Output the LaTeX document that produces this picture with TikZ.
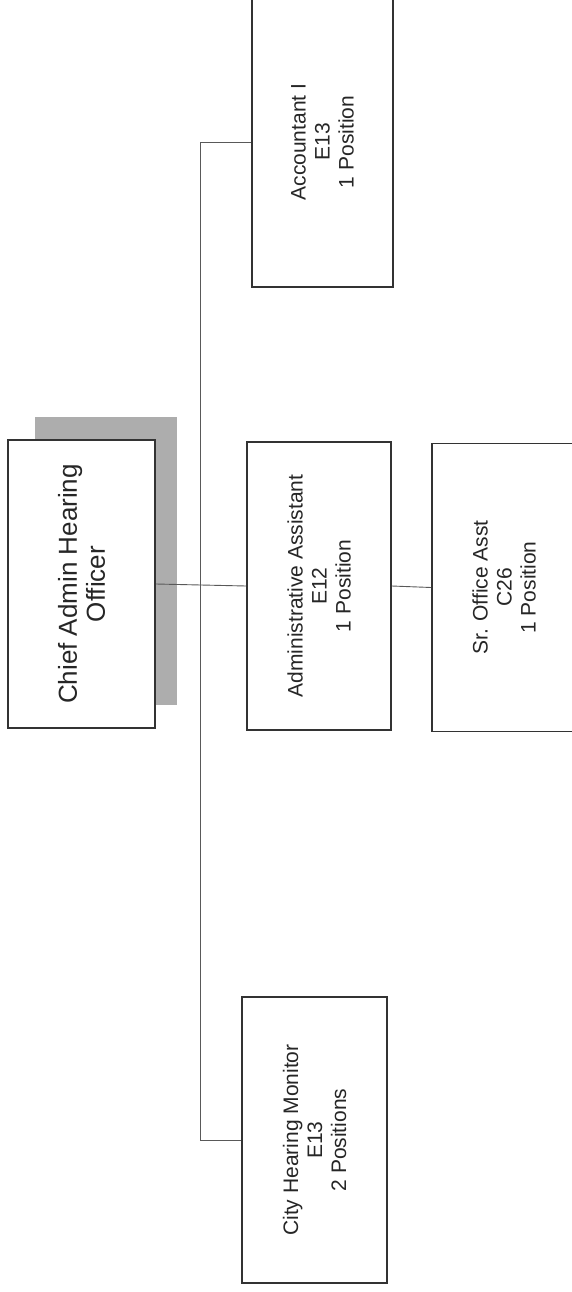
\documentclass[tikz,border=0pt]{standalone}
\usepackage{fontspec}
\setmainfont{Liberation Sans}
\begin{document}
\begin{tikzpicture}[x=1pt,y=-1pt,
  box/.style={draw=black!80, line width=1.6pt, fill=white, inner sep=0pt, minimum width=144pt, minimum height=288pt},
  lbl/.style={rotate=90, align=center, text=black!85, font=\fontsize{21}{24}\selectfont},
  conn/.style={draw=black!65, line width=0.9pt},
  shadowbox/.style={fill=black!32, draw=none}]
\useasboundingbox (0,0) rectangle (571,1292);
% shadow of chief box
\fill[shadowbox] (35,417) rectangle (177,705);
% boxes
\node[box, minimum width=147pt] (chief) at (81.5,584) {};
\node[box] (admin) at (319,586) {};
\node[box, minimum width=152pt] (sr) at (508,587.5) {};
\node[box, minimum width=141pt, minimum height=290pt] (acct) at (322.5,142) {};
\node[box, minimum width=145pt, minimum height=286pt] (city) at (314.5,1140) {};
% labels
\node[lbl, font=\fontsize{26}{28}\selectfont] (chiefT) at (chief) {Chief Admin Hearing\\Officer};
\node[lbl] (adminT) at (admin) {Administrative Assistant\\E12\\1 Position};
\node[lbl] (srT) at (504,587.5) {Sr. Office Asst\\C26\\1 Position};
\node[lbl] (acctT) at (acct) {Accountant I\\E13\\1 Position};
\node[lbl] (cityT) at (city) {City Hearing Monitor\\E13\\2 Positions};
% connectors
\coordinate (bt) at (200,142);
\coordinate (bb) at (200,1140);
\draw[conn] (acct.west) -- (bt) -- (bb) -- (city.west);
\draw[conn] (chief.east) -- (admin.west);
\draw[conn] (admin.east) -- (sr.west);
\end{tikzpicture}
\end{document}
